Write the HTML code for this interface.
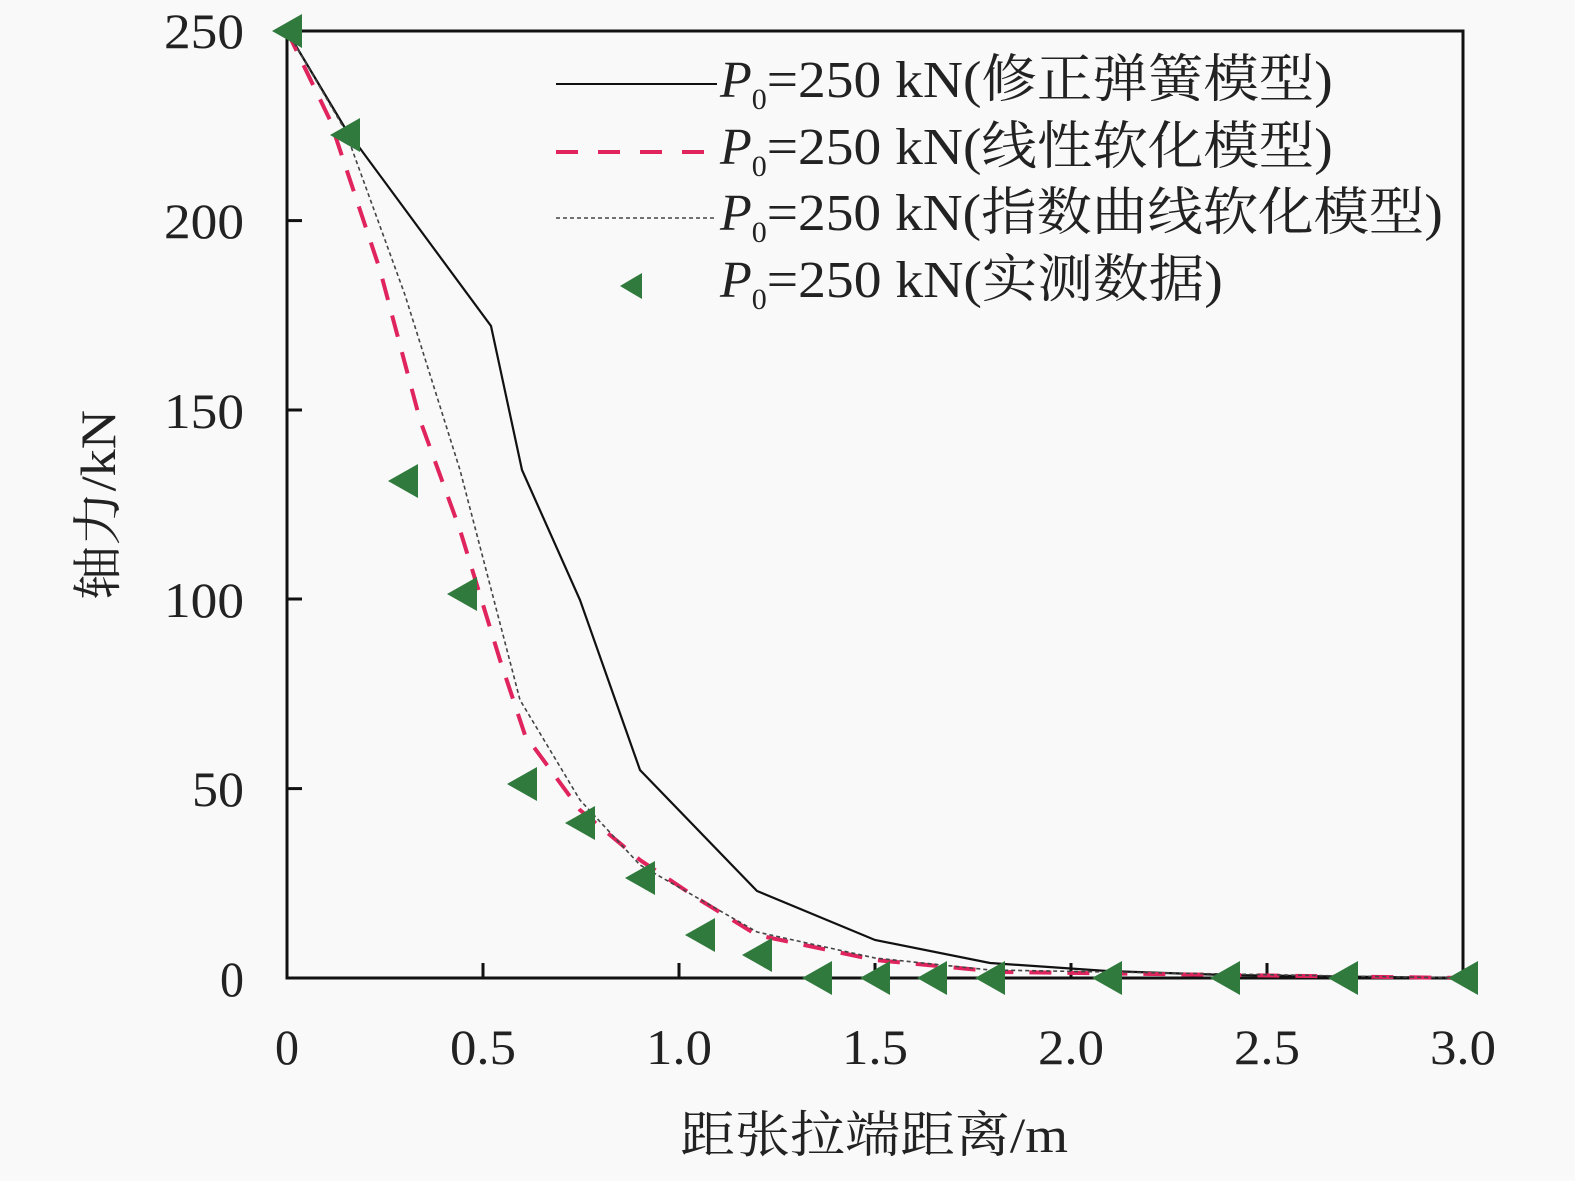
<!DOCTYPE html>
<html><head><meta charset="utf-8"><style>
body{margin:0;background:#fafafa}
svg text{font-family:"Liberation Serif","Noto Serif CJK SC",serif;fill:#222}
</style></head><body>
<svg width="1575" height="1176" viewBox="0 0 1575 1176" xmlns="http://www.w3.org/2000/svg">
<rect width="1575" height="1176" fill="#f9f9f9"/>
<rect x="287" y="31" width="1176" height="947" fill="none" stroke="#111" stroke-width="3"/>
<g stroke="#111" stroke-width="3">
<line x1="483" y1="978" x2="483" y2="963"/><line x1="679" y1="978" x2="679" y2="963"/><line x1="875" y1="978" x2="875" y2="963"/><line x1="1071" y1="978" x2="1071" y2="963"/><line x1="1267" y1="978" x2="1267" y2="963"/>
<line x1="287" y1="788.6" x2="302" y2="788.6"/><line x1="287" y1="599" x2="302" y2="599"/><line x1="287" y1="410" x2="302" y2="410"/><line x1="287" y1="220.6" x2="302" y2="220.6"/>
</g>
<g font-size="50" text-anchor="end">
<text x="244" y="996" textLength="24" lengthAdjust="spacingAndGlyphs">0</text>
<text x="244" y="806" textLength="52" lengthAdjust="spacingAndGlyphs">50</text>
<text x="244" y="617" textLength="80" lengthAdjust="spacingAndGlyphs">100</text>
<text x="244" y="428" textLength="80" lengthAdjust="spacingAndGlyphs">150</text>
<text x="244" y="238" textLength="80" lengthAdjust="spacingAndGlyphs">200</text>
<text x="244" y="48" textLength="80" lengthAdjust="spacingAndGlyphs">250</text>
</g>
<g font-size="50" text-anchor="middle">
<text x="287" y="1064" textLength="24" lengthAdjust="spacingAndGlyphs">0</text>
<text x="483" y="1064" textLength="66" lengthAdjust="spacingAndGlyphs">0.5</text>
<text x="679" y="1064" textLength="66" lengthAdjust="spacingAndGlyphs">1.0</text>
<text x="875" y="1064" textLength="66" lengthAdjust="spacingAndGlyphs">1.5</text>
<text x="1071" y="1064" textLength="66" lengthAdjust="spacingAndGlyphs">2.0</text>
<text x="1267" y="1064" textLength="66" lengthAdjust="spacingAndGlyphs">2.5</text>
<text x="1463" y="1064" textLength="66" lengthAdjust="spacingAndGlyphs">3.0</text>
</g>
<text x="874" y="1152" font-size="50" text-anchor="middle" textLength="388" lengthAdjust="spacingAndGlyphs">距张拉端距离/m</text>
<text transform="translate(115,505) rotate(-90)" font-size="50" text-anchor="middle" textLength="190" lengthAdjust="spacingAndGlyphs">轴力/kN</text>
<polyline fill="none" stroke="#111" stroke-width="2.2" points="287,31 345,128 491,326 522,470 580,600 640,770 757,891 875,940 990,963 1107,971 1225,975 1463,978"/>
<polyline fill="none" stroke="#e0245e" stroke-width="4" stroke-dasharray="22,16" points="287,31 330,120 380,270 420,420 460,530 500,660 525,735 580,810 640,860 700,900 757,935 875,960 1000,972 1463,978"/>
<polyline fill="none" stroke="#444" stroke-width="1.6" stroke-dasharray="4,3" points="287,31 345,130 405,295 460,470 520,700 580,800 640,865 757,932 875,958 990,970 1463,978"/>
<g fill="#2f7a3c">
<path d="M272,31 l30,-17 v34z"/><path d="M330,135 l30,-17 v34z"/><path d="M388,481 l30,-17 v34z"/><path d="M447,594 l30,-17 v34z"/><path d="M507,784 l30,-17 v34z"/><path d="M565,823 l30,-17 v34z"/><path d="M625,878 l30,-17 v34z"/><path d="M685,935 l30,-17 v34z"/><path d="M742,955 l30,-17 v34z"/><path d="M802,978 l30,-17 v34z"/><path d="M860,978 l30,-17 v34z"/><path d="M917,978 l30,-17 v34z"/><path d="M975,978 l30,-17 v34z"/><path d="M1092,978 l30,-17 v34z"/><path d="M1210,978 l30,-17 v34z"/><path d="M1328,978 l30,-17 v34z"/><path d="M1448,978 l30,-17 v34z"/>
<path d="M620,286 l22,-13 v26z"/>
</g>
<line x1="556" y1="84" x2="717" y2="84" stroke="#111" stroke-width="2"/>
<line x1="556" y1="152" x2="717" y2="152" stroke="#e0245e" stroke-width="4" stroke-dasharray="22,20"/>
<line x1="556" y1="218" x2="717" y2="218" stroke="#444" stroke-width="1.5" stroke-dasharray="4,3"/>
<g font-size="52">
<text x="720" y="97"><tspan font-style="italic">P</tspan><tspan font-size="30" dy="12">0</tspan><tspan dy="-12" textLength="566" lengthAdjust="spacingAndGlyphs">=250 kN(修正弹簧模型)</tspan></text>
<text x="720" y="164"><tspan font-style="italic">P</tspan><tspan font-size="30" dy="12">0</tspan><tspan dy="-12" textLength="566" lengthAdjust="spacingAndGlyphs">=250 kN(线性软化模型)</tspan></text>
<text x="720" y="230"><tspan font-style="italic">P</tspan><tspan font-size="30" dy="12">0</tspan><tspan dy="-12" textLength="676" lengthAdjust="spacingAndGlyphs">=250 kN(指数曲线软化模型)</tspan></text>
<text x="720" y="297"><tspan font-style="italic">P</tspan><tspan font-size="30" dy="12">0</tspan><tspan dy="-12" textLength="456" lengthAdjust="spacingAndGlyphs">=250 kN(实测数据)</tspan></text>
</g>
</svg>
</body></html>
